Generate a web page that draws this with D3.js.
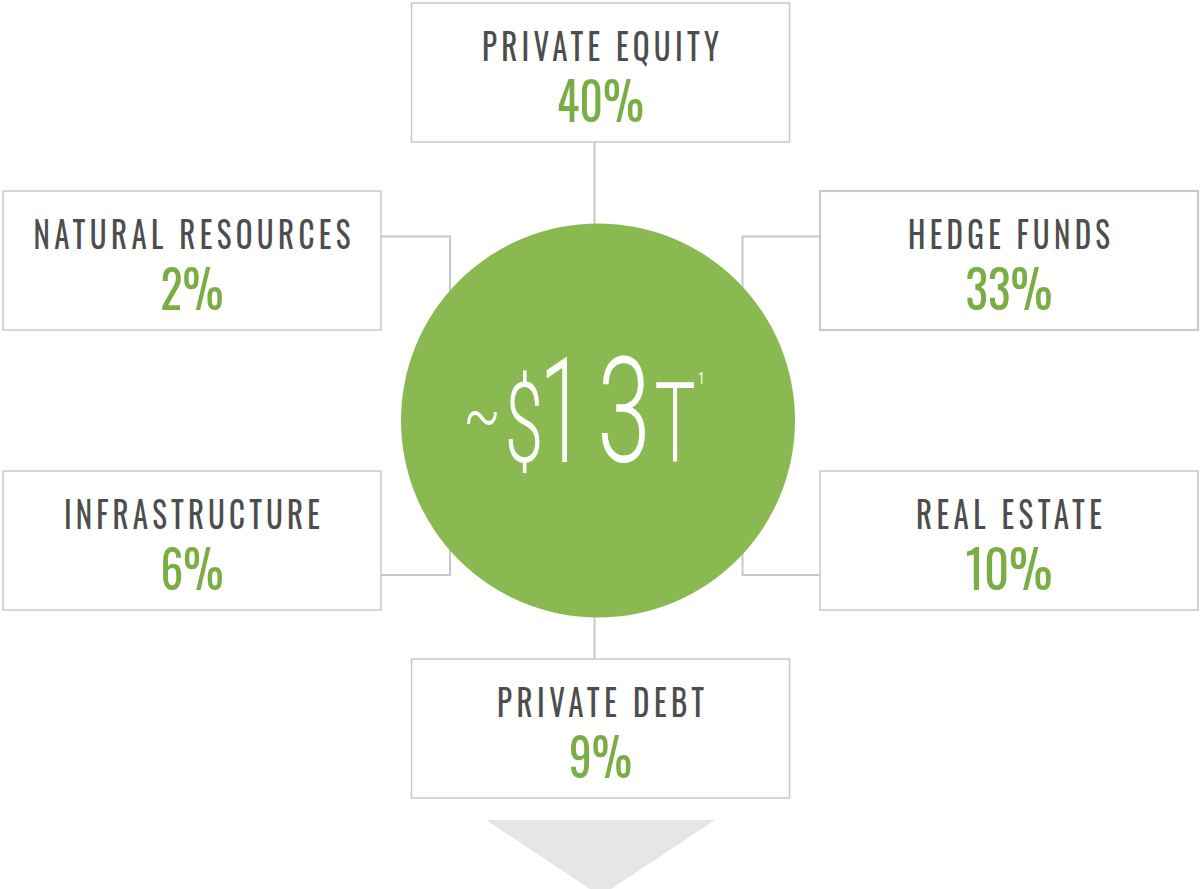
<!DOCTYPE html>
<html><head><meta charset="utf-8">
<script src="https://cdn.jsdelivr.net/npm/d3@7/dist/d3.min.js"></script>
<style>
html,body{margin:0;padding:0;background:#fff;}
svg{display:block;}
</style></head>
<body>
<script>
// ---- data ----
const categories = ["PRIVATE EQUITY","NATURAL RESOURCES","HEDGE FUNDS","INFRASTRUCTURE","REAL ESTATE","PRIVATE DEBT"];
const shares = [40, 2, 33, 6, 10, 9];
const slots = ["top","leftTop","rightTop","leftBottom","rightBottom","bottom"];
const totalGlyphs = ["~","$","1","3","T"];
const footnote = "1";

// ---- layout ----
const W = 1200, H = 889;
const svg = d3.select("body").append("svg").attr("width", W).attr("height", H);
const boxW = 378, boxH = 139;
const colX = d3.scaleOrdinal().domain(["left","mid","right"]).range([3, 411.5, 820]);
const rowY = d3.scaleOrdinal().domain(["r0","r1","r2","r3"]).range([3, 191, 471, 659]);
const slotPos = {
  top: ["mid","r0"], leftTop: ["left","r1"], rightTop: ["right","r1"],
  leftBottom: ["left","r2"], rightBottom: ["right","r2"], bottom: ["mid","r3"]
};
const labelW = {"PRIVATE EQUITY":237,"NATURAL RESOURCES":317,"HEDGE FUNDS":202,"INFRASTRUCTURE":256,"REAL ESTATE":186,"PRIVATE DEBT":207};
const pctW = v => String(v).length === 1 ? 63 : 87;

const cx = 598, cy = 420.5, r = 197;
const lineC = "#c8c8c8";
const font = "Oswald, 'Liberation Sans Narrow', 'DejaVu Sans Condensed', 'Roboto', sans-serif";

// triangle
svg.append("path")
  .attr("d", `M486,820 L715,820 L600.5,896 Z`)
  .attr("fill", "#e6e6e6");

// connectors
const conn = svg.append("g").attr("fill","none").attr("stroke", lineC).attr("stroke-width", 2);
conn.append("line").attr("x1",594.5).attr("x2",594.5).attr("y1",142).attr("y2",cy-r+5);
conn.append("line").attr("x1",594.5).attr("x2",594.5).attr("y1",cy+r-5).attr("y2",659);
conn.append("path").attr("d","M381,236.5 H450 V300");
conn.append("path").attr("d","M381,575 H450 V520");
conn.append("path").attr("d","M820,236.5 H742.5 V300");
conn.append("path").attr("d","M820,575 H742.5 V520");

// circle
svg.append("circle").attr("cx",cx).attr("cy",cy).attr("r",r).attr("fill","#8bb951");

// centre total, glyph by glyph (ink centre x, baseline y, size, horizontal scale)
const glyphLayout = [
  {x:482, y:441, size:76, sx:0.72},
  {x:524, y:462, size:112, sx:0.62},
  {x:562, y:462, size:146, sx:0.55},
  {x:624, y:462, size:146, sx:0.66},
  {x:675, y:462, size:111, sx:0.62}
];
svg.append("g").selectAll("text").data(totalGlyphs).join("text")
  .attr("transform", (d,i) => `translate(${glyphLayout[i].x},${glyphLayout[i].y}) scale(${glyphLayout[i].sx},1)`)
  .attr("text-anchor","middle")
  .attr("font-family","Roboto, 'Liberation Sans Narrow', sans-serif")
  .attr("font-weight", 300)
  .attr("font-size", (d,i) => glyphLayout[i].size)
  .attr("fill","#fff")
  .text(d => d);
svg.append("text")
  .attr("transform","translate(701.5,384) scale(0.7,1)")
  .attr("text-anchor","middle")
  .attr("font-family","Roboto, sans-serif").attr("font-weight",400)
  .attr("font-size", 16).attr("fill","#fff")
  .text(footnote);

// boxes
const data = categories.map((c,i)=>({cat:c, v:shares[i], slot:slots[i]}));
const g = svg.selectAll("g.box").data(data).join("g").attr("class","box")
  .attr("transform", d => `translate(${colX(slotPos[d.slot][0])},${rowY(slotPos[d.slot][1])})`);
g.append("rect").attr("x",0).attr("y",0).attr("width",boxW).attr("height",boxH)
  .attr("fill","#fff").attr("stroke", lineC)
  .attr("stroke-width", d => d.slot === "rightTop" ? 2.2 : 1.5);
const lsx = 0.84;
g.append("text")
  .attr("transform", `translate(${boxW/2},57.5) scale(${lsx},1)`)
  .attr("text-anchor","middle")
  .attr("font-family", font).attr("font-size", 37)
  .attr("fill","#4d4d4d")
  .attr("textLength", d => labelW[d.cat] / lsx).attr("lengthAdjust","spacing")
  .text(d => d.cat);
g.append("text")
  .attr("transform", `translate(${boxW/2},118.5) scale(0.92,1)`)
  .attr("text-anchor","middle")
  .attr("font-family", font).attr("font-size", 53)
  .attr("fill","#7aae45")
  .attr("textLength", d => pctW(d.v) / 0.92).attr("lengthAdjust","spacingAndGlyphs")
  .text(d => d.v + "%");
</script>
</body></html>
